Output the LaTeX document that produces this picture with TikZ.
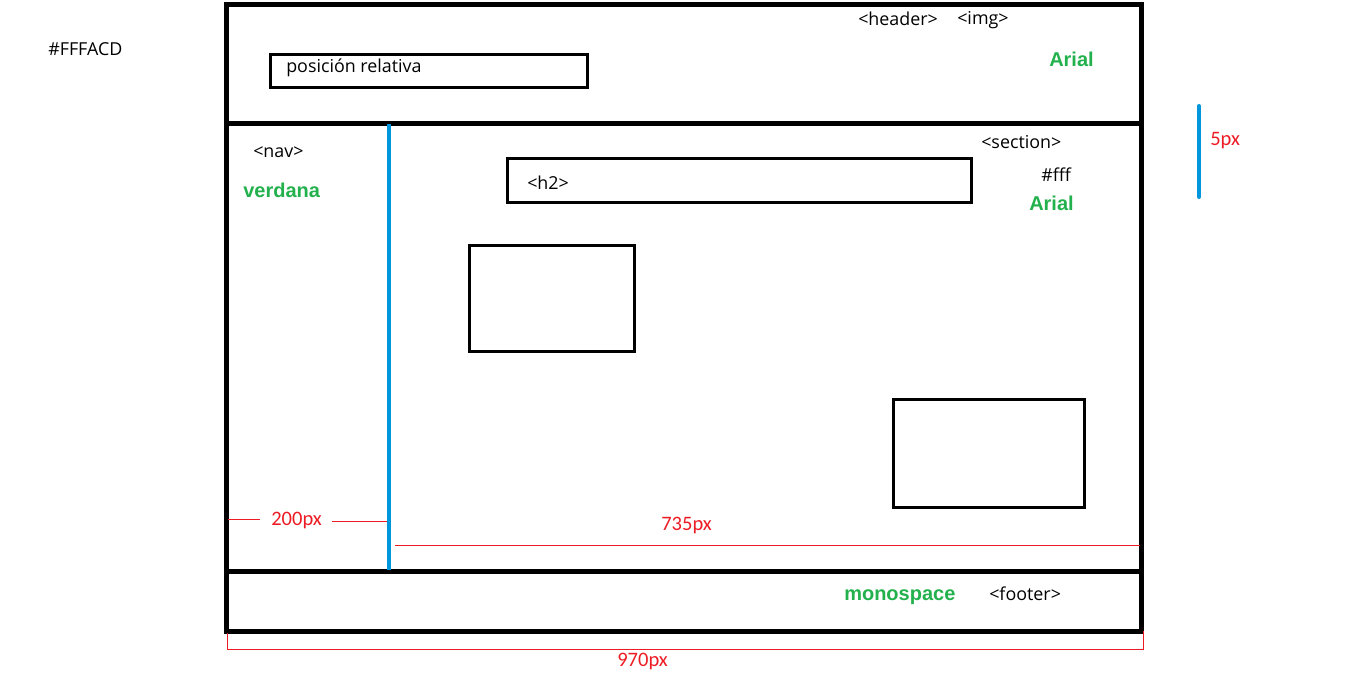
\documentclass[tikz,border=0pt]{standalone}
\usepackage{fontspec}
\setmainfont{Open Sans}
\newfontfamily\redfont{Carlito}
\newfontfamily\greenfont{Liberation Sans}
\definecolor{pgreen}{HTML}{22B14C}
\definecolor{pred}{HTML}{ED1C24}
\definecolor{pblue}{HTML}{0096DC}
\begin{document}
\begin{tikzpicture}[x=0.75pt,y=-0.75pt,
  frame/.style={line width=3.75pt,draw=black},
  inbox/.style={draw=black,line width=2.2pt,fill=none},
  lbl/.style={anchor=west,inner sep=0pt,font=\fontsize{13.4}{15}\selectfont},
  glbl/.style={anchor=west,inner sep=0pt,text=pgreen,font=\greenfont\bfseries\fontsize{15}{17}\selectfont},
  rlbl/.style={anchor=west,inner sep=0pt,text=pred,font=\redfont\fontsize{15.4}{17}\selectfont},
  dim/.style={draw=pred,line width=0.6pt},
  bluebar/.style={draw=pblue,line width=3pt,line cap=round}]
\useasboundingbox (0,0) rectangle (1353,675);
\fill[white] (0,0) rectangle (1353,675);
% frame
\coordinate (TL) at (226,4);
\coordinate (BR) at (1141,631);
\draw[frame] (TL) rectangle (BR);
\coordinate (hl) at (226,123);
\coordinate (hr) at (1141,123);
\draw[frame] (hl) -- (hr);
\coordinate (fl) at (226,571);
\coordinate (fr) at (1144,571);
\draw[frame] (fl) -- (fr);
% blue nav divider
\coordinate (b1) at (389,124);
\coordinate (b2) at (389,570);
\draw[draw=pblue,line width=3pt] (b1) -- (b2);
% right blue bar
\coordinate (r1) at (1199,106);
\coordinate (r2) at (1199,197);
\draw[bluebar] (r1) -- (r2);
% inner boxes
\node[inbox,minimum width=317*0.75pt,minimum height=33*0.75pt,anchor=north west] (pos) at (269,53) {};
\node[inbox,minimum width=464*0.75pt,minimum height=44*0.75pt,anchor=north west] (h2box) at (506,157) {};
\node[inbox,minimum width=165*0.75pt,minimum height=106*0.75pt,anchor=north west] (box1) at (468,244) {};
\node[inbox,minimum width=191*0.75pt,minimum height=108*0.75pt,anchor=north west] (box2) at (892,398) {};
% texts
\node[lbl] (cfff) at (48,49) {\#FFFACD};
\node[lbl] (pt) at (286,68) {posición relativa};
\node[lbl] (hdr) at (858,19) {<header>};
\node[lbl] (img) at (957,20) {<img>};
\node[glbl] (ar1) at (1049,59) {Arial};
\node[lbl] (nav) at (253,152) {<nav>};
\node[glbl] (verd) at (243,190) {verdana};
\node[lbl] (sec) at (981,142) {<section>};
\node[lbl] (h2t) at (527,183) {<h2>};
\node[lbl] (wfff) at (1041,175) {\#fff};
\node[glbl] (ar2) at (1029,203) {Arial};
\node[rlbl] (px5) at (1210,141) {5px};
\node[rlbl] (px200) at (271,520) {200px};
\node[rlbl] (px735) at (661,525) {735px};
\node[glbl] (mono) at (844,597) {monospace};
\node[lbl] (ftr) at (989,594) {<footer>};
\node[rlbl] (px970) at (617,661) {970px};
% dimension lines
\coordinate (d1) at (228,519);
\coordinate (d2) at (260,519);
\draw[dim] (d1) -- (d2);
\coordinate (d3) at (332,521);
\coordinate (d4) at (387,521);
\draw[dim] (d3) -- (d4);
\coordinate (d5) at (395,545);
\coordinate (d6) at (1140,545);
\draw[dim] (d5) -- (d6);
\coordinate (e1) at (227,633);
\coordinate (e2) at (227,649);
\coordinate (e3) at (1143,649);
\coordinate (e4) at (1143,631);
\draw[dim] (e1) -- (e2) -- (e3) -- (e4);
\end{tikzpicture}
\end{document}
